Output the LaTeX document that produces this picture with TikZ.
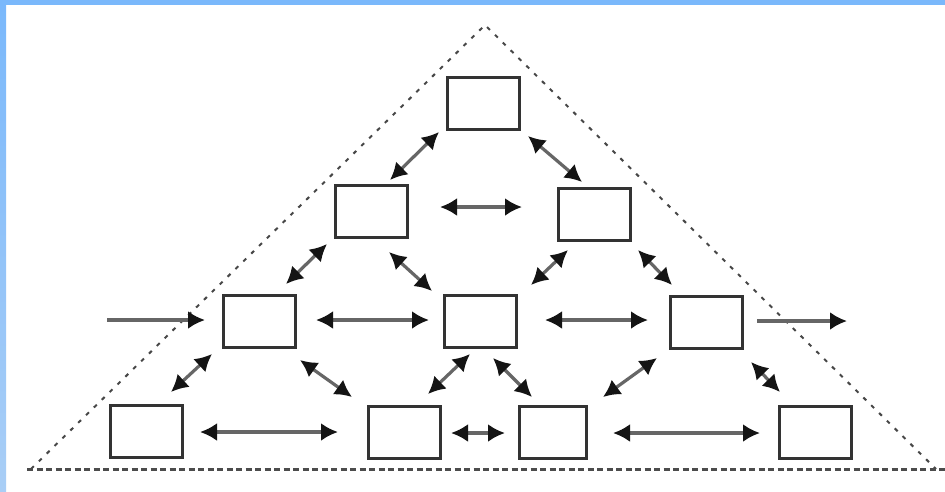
\documentclass[tikz,border=0pt]{standalone}
\usetikzlibrary{arrows.meta}
\definecolor{bluebar}{HTML}{7AB8FB}
\definecolor{bluebarlight}{HTML}{A9CEF6}
\begin{document}
\begin{tikzpicture}[x=1pt,y=-1pt,
  box/.style={rectangle, draw=black!80, line width=3pt, inner sep=0pt,
              minimum width=72pt, minimum height=52pt},
  dbl/.style={line width=3.2pt, draw=black!60, {Latex[length=17pt,width=18pt,color=black!92]}-{Latex[length=17pt,width=18pt,color=black!92]}},
  sgl/.style={line width=3.2pt, draw=black!60, -{Latex[length=17pt,width=18pt,color=black!92]}},
  side/.style={draw=black!72, line width=2pt, dash pattern=on 4pt off 7pt},
  base/.style={draw=black!70, line width=3pt, dash pattern=on 6pt off 3.5pt}]
\useasboundingbox (0,0) rectangle (945,491);
\fill[white] (0,0) rectangle (945,491);
% blue frame
\shade[top color=bluebar, bottom color=bluebarlight] (0,0) rectangle (6,491);
\fill[bluebar] (0,0) rectangle (945,5);

% triangle
\coordinate (apex) at (485,25);
\coordinate (bl) at (31,469);
\coordinate (br) at (936,469);
\coordinate (bl0) at (27,469);
\coordinate (br0) at (945,469);
\draw[side] (bl) -- (apex) -- (br);
\draw[base] (bl0) -- (br0);

% boxes
\node[box] (T)   at (483,103) {};
\node[box] (R2L) at (371,211) {};
\node[box] (R2R) at (594,214) {};
\node[box] (R3L) at (259,321) {};
\node[box] (R3M) at (480,321) {};
\node[box] (R3R) at (706,322) {};
\node[box] (R4a) at (146,431) {};
\node[box] (R4b) at (404,432) {};
\node[box, minimum width=67pt] (R4c) at (553,432) {};
\node[box] (R4d) at (815,432) {};

% arrow end points
\coordinate (as1) at (390,180); \coordinate (ae1) at (439,132);
\coordinate (as2) at (528,136); \coordinate (ae2) at (582,182);
\coordinate (as3) at (286,284); \coordinate (ae3) at (327,244);
\coordinate (as4) at (389,252); \coordinate (ae4) at (432,291);
\coordinate (as5) at (531,285); \coordinate (ae5) at (568,250);
\coordinate (as6) at (638,250); \coordinate (ae6) at (672,285);
\coordinate (as7) at (171,392); \coordinate (ae7) at (212,354);
\coordinate (as8) at (300,360); \coordinate (ae8) at (352,397);
\coordinate (as9) at (428,394); \coordinate (ae9) at (470,354);
\coordinate (as10) at (493,358); \coordinate (ae10) at (532,397);
\coordinate (as11) at (603,397); \coordinate (ae11) at (657,358);
\coordinate (as12) at (751,362); \coordinate (ae12) at (780,392);
\coordinate (hs1) at (440,207); \coordinate (he1) at (522,207);
\coordinate (hs2) at (316,320); \coordinate (he2) at (429,320);
\coordinate (hs3) at (545,320); \coordinate (he3) at (648,320);
\coordinate (hs4) at (200,432); \coordinate (he4) at (338,432);
\coordinate (hs5) at (451,433); \coordinate (he5) at (505,433);
\coordinate (hs6) at (613,433); \coordinate (he6) at (760,433);
\coordinate (ins) at (107,320); \coordinate (ine) at (205,320);
\coordinate (outs) at (757,321); \coordinate (oute) at (847,321);

\foreach \i in {1,...,12} \draw[dbl] (as\i) -- (ae\i);
\foreach \i in {1,...,6} \draw[dbl] (hs\i) -- (he\i);
\draw[sgl] (ins) -- (ine);
\draw[sgl] (outs) -- (oute);
\end{tikzpicture}
\end{document}
